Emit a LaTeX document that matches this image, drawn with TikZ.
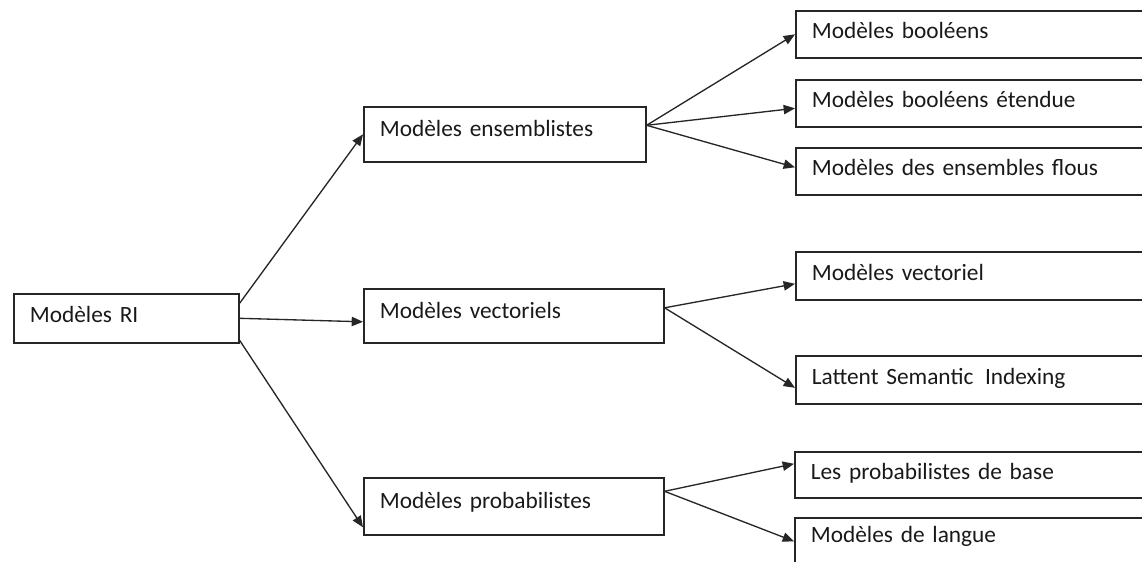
\documentclass[tikz,border=0pt]{standalone}
\usepackage{fontspec}
\setmainfont{Carlito}
\usetikzlibrary{arrows.meta, positioning, calc}

\begin{document}
\begin{tikzpicture}[
                x=0.75pt, y=-0.75pt,
                font=\fontsize{17.5}{21}\selectfont,
                box/.style={rectangle, draw=black!85, line width=1.2pt, anchor=north west, text=black!90, inner xsep=12pt, inner ysep=0pt, text height=12pt, text depth=5pt},
                lowtext/.style={text depth=8pt},
                leaf/.style={box, text width=249.75pt},
                link/.style={draw=black!85, line width=1pt, -{Triangle[length=8.5pt, width=7pt]}}
            ]
                \useasboundingbox (0,0) rectangle (1142,561);

                % Root
                \node[box, text width=144.75pt, minimum height=36.75pt] (RI) at (13,293) {Modèles RI};

                % Model families
                \node[box, lowtext, text width=187.5pt, minimum height=41.25pt] (ens) at (363,106) {Modèles ensemblistes};
                \node[box, lowtext, text width=201pt, minimum height=40.5pt] (vect) at (363,288) {Modèles vectoriels};
                \node[box, lowtext, text width=201pt, minimum height=42.75pt] (prob) at (363,477) {Modèles probabilistes};

                % Leaves
                \node[leaf, minimum height=35.25pt] (bool) at (795,10) {Modèles booléens};
                \node[leaf, minimum height=35.25pt] (ext) at (795,79) {Modèles booléens étendue};
                \node[leaf, minimum height=35.25pt] (flous) at (795,147) {Modèles des ensembles flous};
                \node[leaf, minimum height=36pt] (vec) at (795,251) {Modèles vectoriel};
                \node[leaf, minimum height=36pt] (lsi) at (795,355) {Lattent Semantic\, Indexing};
                \node[leaf, minimum height=34.5pt] (base) at (794,451) {Les probabilistes de base};
                \node[leaf, text depth=14pt, minimum height=39.75pt] (langue) at (794,517) {Modèles de langue};

                % Edges
                \path
                    ($(RI.east)+(0,-15)$) edge[link] (ens.west)
                    (RI.east) edge[link] ($(vect.west)+(0,6)$)
                    ($(RI.east)+(0,22)$) edge[link] ($(prob.west)+(0,21)$);
                \path
                    ($(ens.east)+(0,-9)$) edge[link] (bool.west)
                    ($(ens.east)+(0,-9)$) edge[link] ($(ext.west)+(0,5)$)
                    ($(ens.east)+(0,-9)$) edge[link] ($(flous.west)+(0,-4)$);
                \path
                    ($(vect.east)+(0,-8)$) edge[link] ($(vec.west)+(0,8)$)
                    ($(vect.east)+(0,-8)$) edge[link] ($(lsi.west)+(0,8)$);
                \path
                    ($(prob.east)+(0,-15)$) edge[link] ($(base.west)+(0,-11)$)
                    ($(prob.east)+(0,-15)$) edge[link] ($(langue.west)+(0,-3)$);
            \end{tikzpicture}
\end{document}
